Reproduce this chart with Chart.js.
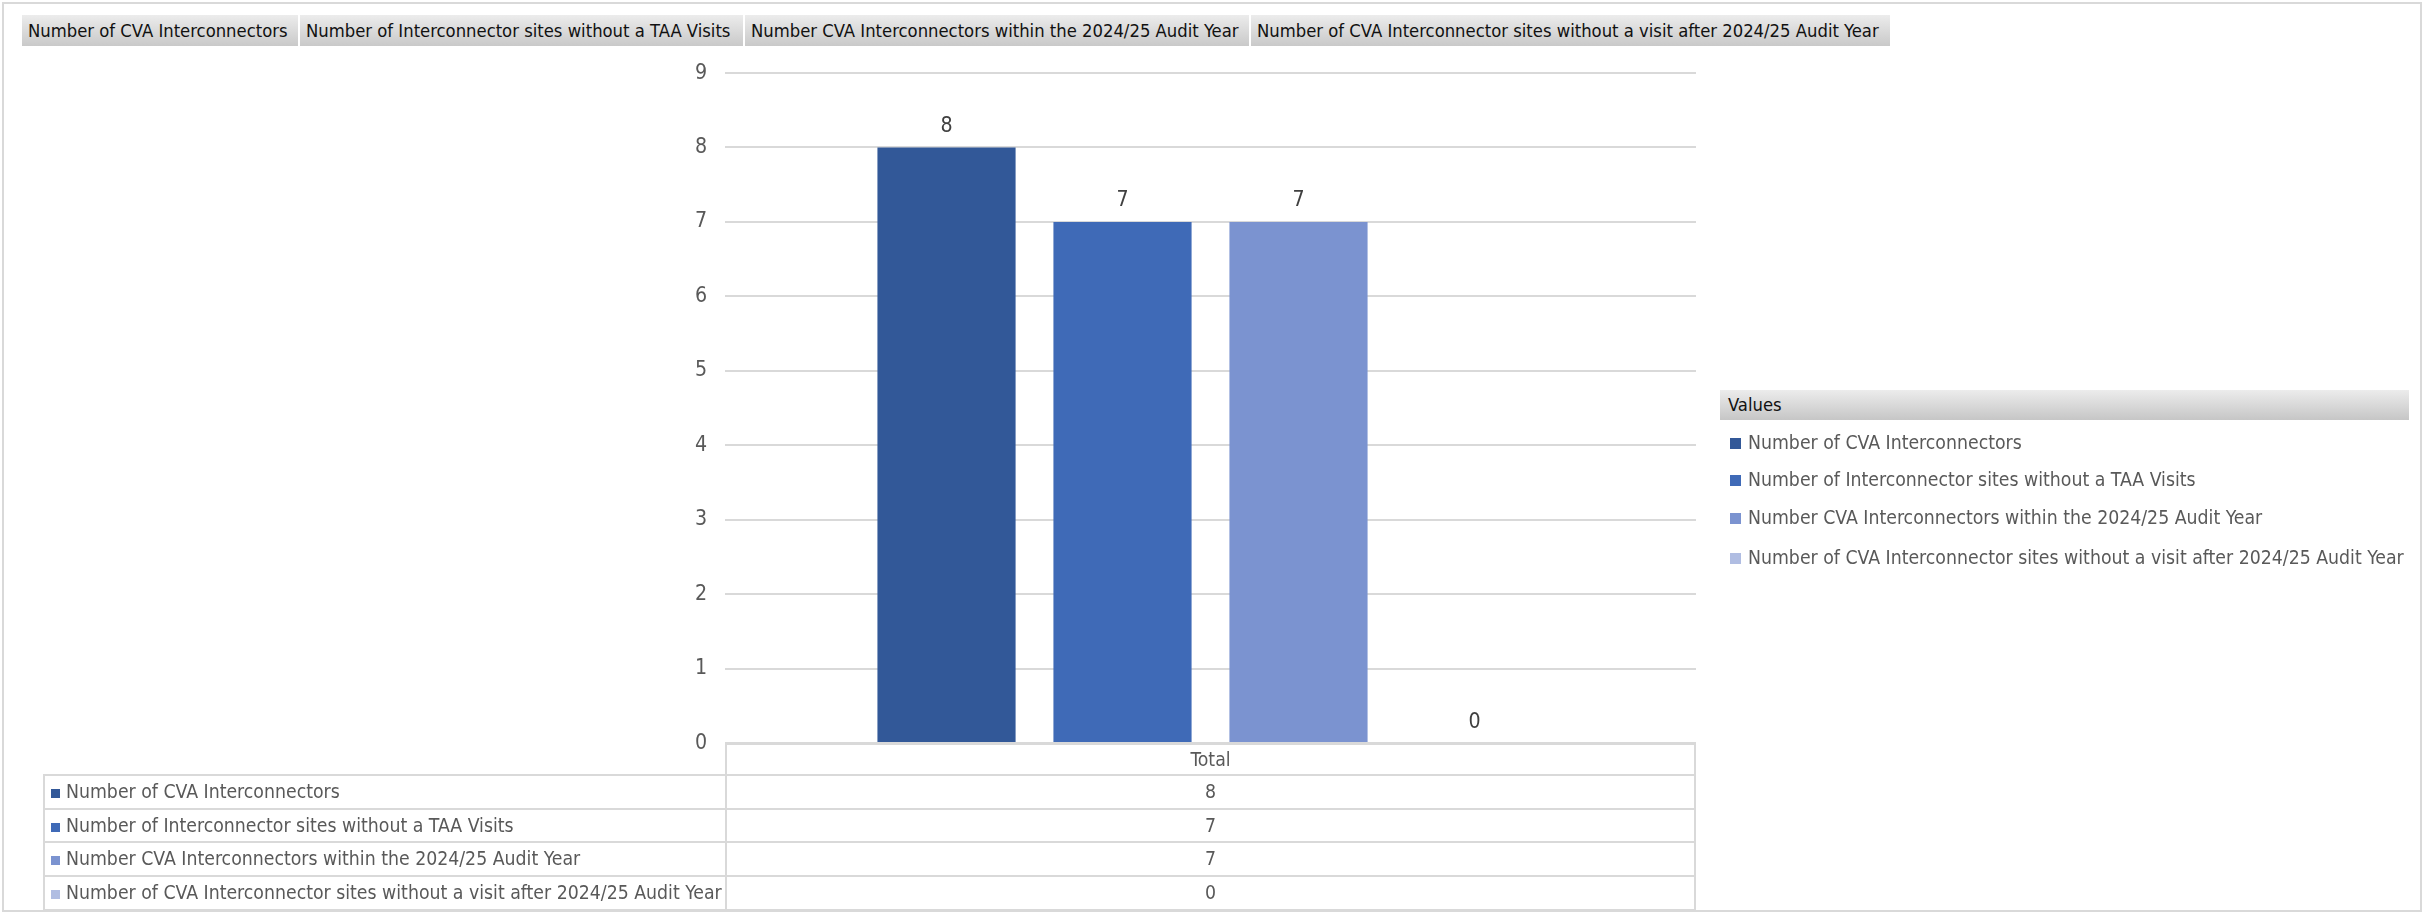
<!DOCTYPE html>
<html>
<head>
<meta charset="utf-8">
<script src="https://cdn.jsdelivr.net/npm/chart.js@4/dist/chart.umd.min.js"></script>
<style>
  html, body { margin: 0; padding: 0; background: #fff; }
  body { width: 2428px; height: 919px; position: relative; overflow: hidden;
         font-family: "Liberation Sans Narrow", "DejaVu Sans Condensed", sans-serif; }
  #frame { position: absolute; left: 2px; top: 2px; width: 2420px; height: 910px;
           border: 2px solid #d9d9d9; box-sizing: border-box; }
  #chartWrap { position: absolute; left: 0; top: 0; width: 2428px; height: 919px; }
  .btn { position: absolute; top: 15px; height: 31px; box-sizing: border-box;
         background: linear-gradient(#ececec, #c9c9c9); border-right: 2px solid #fff;
         line-height: 31px; color: #111; padding-left: 6px; white-space: nowrap; overflow: hidden; }
  #legHead { position: absolute; left: 1720px; top: 390px; width: 689px; height: 30px;
             background: linear-gradient(#ececec, #c6c6c6); line-height: 30px;
             color: #111; padding-left: 8px; box-sizing: border-box; }
  .legItem { position: absolute; left: 1730px; color: #595959; white-space: nowrap;
             height: 30px; line-height: 30px; }
  .sq { display: inline-block; width: 11px; height: 11px; margin-right: 7px; vertical-align: 0px; }
  .cell { position: absolute; box-sizing: border-box; border: 2px solid #d9d9d9;
          color: #595959; white-space: nowrap; }
</style>
</head>
<body>
<div id="frame"></div>
<div id="chartWrap"><canvas id="c" width="2428" height="919"></canvas></div>
<div id="overlay"></div>
<script>
// ---- data ----
const categories = ['Total'];
const seriesNames = [
  'Number of CVA Interconnectors',
  'Number of Interconnector sites without a TAA Visits',
  'Number CVA Interconnectors within the 2024/25 Audit Year',
  'Number of CVA Interconnector sites without a visit after 2024/25 Audit Year'
];
const seriesValues = [8, 7, 7, 0];
const seriesColors = ['#325898', '#3f6ab7', '#7b93d0', '#b0bde2'];
const yMin = 0, yMax = 9, yStep = 1;
const legendTitle = 'Values';

// ---- font fitting (no Calibri available: size a condensed face to the reference widths) ----
const FONT = '"Liberation Sans Narrow", "DejaVu Sans Condensed", sans-serif';
const mctx = document.createElement('canvas').getContext('2d');
function fitSize(text, targetW) {
  mctx.font = '100px ' + FONT;
  return Math.round(100 * targetW / mctx.measureText(text).width * 10) / 10;
}
const bodySize = fitSize(seriesNames[0], 274);
const btnSize = fitSize(seriesNames[0], 260);
const numSize = Math.round(bodySize * 1.1 * 10) / 10;
document.body.style.fontSize = bodySize + 'px';

// ---- field buttons ----
const overlay = document.getElementById('overlay');
const btnEdges = [22, 300, 745, 1251, 1892];
seriesNames.forEach((n, i) => {
  const d = document.createElement('div');
  d.className = 'btn';
  d.style.fontSize = btnSize + 'px';
  d.style.left = btnEdges[i] + 'px';
  d.style.width = (btnEdges[i + 1] - btnEdges[i]) + 'px';
  d.textContent = n;
  overlay.appendChild(d);
});

// ---- legend ----
const lh = document.createElement('div');
lh.id = 'legHead'; lh.textContent = legendTitle; lh.style.fontSize = btnSize + 'px';
overlay.appendChild(lh);
const legY = [428, 465, 503, 543];
seriesNames.forEach((n, i) => {
  const d = document.createElement('div');
  d.className = 'legItem';
  d.style.top = legY[i] + 'px';
  d.innerHTML = '<span class="sq" style="background:' + seriesColors[i] + '"></span>';
  d.appendChild(document.createTextNode(n));
  overlay.appendChild(d);
});

// ---- data labels plugin ----
const valueLabels = {
  id: 'valueLabels',
  afterDatasetsDraw(chart) {
    const ctx = chart.ctx;
    ctx.save();
    ctx.font = numSize + 'px ' + FONT;
    ctx.fillStyle = '#404040';
    ctx.textAlign = 'center';
    ctx.textBaseline = 'middle';
    chart.data.datasets.forEach((ds, i) => {
      chart.getDatasetMeta(i).data.forEach((bar, j) => {
        ctx.fillText(String(ds.data[j]), bar.x, bar.y - 21);
      });
    });
    ctx.restore();
  }
};

const chart = new Chart(document.getElementById('c'), {
  type: 'bar',
  data: {
    labels: categories,
    datasets: seriesNames.map((n, i) => ({
      label: n, data: [seriesValues[i]], backgroundColor: seriesColors[i],
      borderWidth: 0
    }))
  },
  options: {
    responsive: false, animation: false,
    devicePixelRatio: 1,
    layout: { padding: { left: 640, right: 732, top: 73, bottom: 176 } },
    datasets: { bar: { categoryPercentage: 0.725, barPercentage: 0.785 } },
    plugins: { legend: { display: false }, tooltip: { enabled: false } },
    scales: {
      x: { display: false },
      y: {
        min: yMin, max: yMax,
        afterFit(s) { s.width = 85; },
        border: { display: false },
        grid: { color: '#d9d9d9', lineWidth: 2, drawTicks: false },
        ticks: { stepSize: yStep, padding: 18, color: '#595959',
                 font: { family: FONT, size: numSize } }
      }
    }
  },
  plugins: [valueLabels]
});

// ---- data table aligned with chart area ----
const ca = chart.chartArea;
const tableLeft = 43;
const rowEdges = [ca.bottom, 774, 808, 841, 875, 909];
function cell(x, y, w, h, html, align, pad) {
  const d = document.createElement('div');
  d.className = 'cell';
  d.style.left = x + 'px'; d.style.top = y + 'px';
  d.style.width = w + 'px'; d.style.height = h + 'px';
  d.style.lineHeight = (h - 4) + 'px';
  d.style.textAlign = align;
  if (pad) d.style.paddingLeft = pad + 'px';
  d.innerHTML = html;
  overlay.appendChild(d);
  return d;
}
cell(ca.left, rowEdges[0], ca.right - ca.left, rowEdges[1] - rowEdges[0] + 2, categories[0], 'center');
seriesNames.forEach((n, i) => {
  const y = rowEdges[i + 1], h = rowEdges[i + 2] - y + 2;
  const l = cell(tableLeft, y, ca.left - tableLeft + 2, h,
    '<span class="sq" style="width:9px;height:9px;margin-right:6px;background:' + seriesColors[i] + '"></span>', 'left', 6);
  l.appendChild(document.createTextNode(n));
  cell(ca.left, y, ca.right - ca.left, h, String(seriesValues[i]), 'center');
});
</script>
</body>
</html>
